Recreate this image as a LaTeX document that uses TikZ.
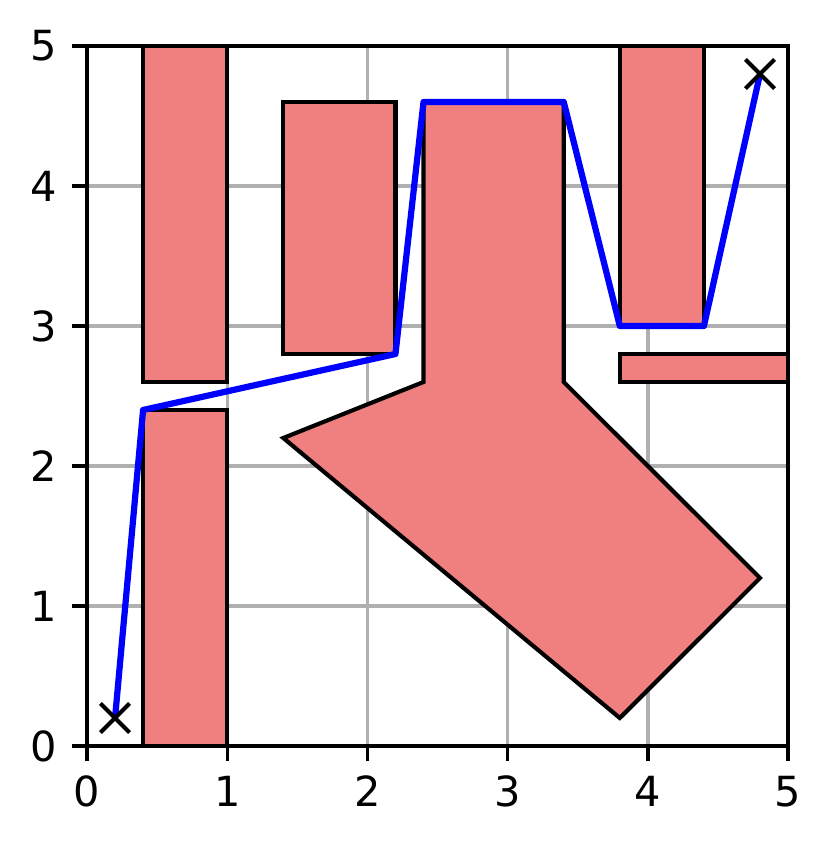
\documentclass[tikz,border=0pt]{standalone}
\usepackage{fontspec}
\setmainfont{DejaVu Sans}
\usepackage{tikz}
\usetikzlibrary{shapes.misc}
\definecolor{lightcoral}{RGB}{240,128,128}
\definecolor{gridgray}{RGB}{176,176,176}

\tikzset{
  obstacle/.style={fill=lightcoral,draw=black,line width=1pt,line join=miter},
  route/.style={draw=blue,line width=1.5pt,line join=round},
  endmark/.style={cross out,draw=black,line width=1pt,minimum size=6pt,inner sep=0pt},
  ticklabel/.style={inner sep=0pt,font=\fontsize{10pt}{12pt}\selectfont}
}

\begin{document}
\begin{tikzpicture}[x=1.1872cm,y=1.1854cm]
      \useasboundingbox (-0.6205,-0.7286) rectangle (5.3138,5.3286);
      % grid
      \foreach \i in {0,...,5} {
        \draw[gridgray,line width=0.8pt] (\i,0) -- (\i,5);
        \draw[gridgray,line width=0.8pt] (0,\i) -- (5,\i);
      }
      % obstacles
      \draw[obstacle] (0.4,2.6) rectangle (1.0,5.0);
      \draw[obstacle] (0.4,0.0) rectangle (1.0,2.4);
      \draw[obstacle] (1.4,2.8) rectangle (2.2,4.6);
      \draw[obstacle] (3.8,3.0) rectangle (4.4,5.0);
      \draw[obstacle] (3.8,2.6) rectangle (5.0,2.8);
      \draw[obstacle] (2.4,4.6) -- (3.4,4.6) -- (3.4,2.6) -- (4.8,1.2)
        -- (3.8,0.2) -- (1.4,2.2) -- (2.4,2.6) -- cycle;
      % route
      \coordinate (p0) at (0.2,0.2);
      \coordinate (p1) at (0.4,2.4);
      \coordinate (p2) at (2.2,2.8);
      \coordinate (p3) at (2.4,4.6);
      \coordinate (p4) at (3.4,4.6);
      \coordinate (p5) at (3.8,3.0);
      \coordinate (p6) at (4.4,3.0);
      \coordinate (p7) at (4.8,4.8);
      \draw[route] (p0) -- (p1) -- (p2) -- (p3) -- (p4) -- (p5) -- (p6) -- (p7);
      \node[endmark] (start) at (p0) {};
      \node[endmark] (goal) at (p7) {};
      % axes
      \foreach \i in {0,...,5} {
        \draw[line width=0.8pt] (\i,0) -- ++(0,-3.5pt);
        \draw[line width=0.8pt] (0,\i) -- ++(-3.5pt,0);
        \node[ticklabel,anchor=north] (xl\i) at ([yshift=-7pt]\i,0) {\i};
        \node[ticklabel,anchor=east] (yl\i) at ([xshift=-7pt]0,\i) {\i};
      }
      \draw[line width=0.8pt] (0,0) rectangle (5,5);
\end{tikzpicture}
\end{document}
